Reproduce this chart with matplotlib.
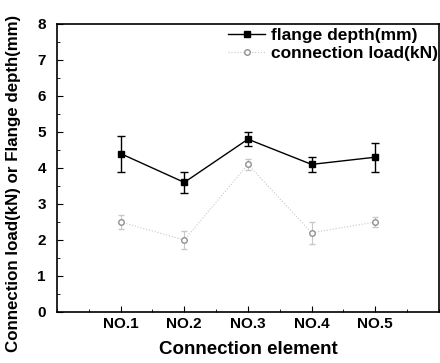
import matplotlib.pyplot as plt
from matplotlib.ticker import MultipleLocator

plt.rcParams['font.family'] = ['Liberation Sans', 'DejaVu Sans']
plt.rcParams['font.weight'] = 'bold'

# data
elements = ['NO.1', 'NO.2', 'NO.3', 'NO.4', 'NO.5']
flange_depth = [4.4, 3.6, 4.8, 4.1, 4.3]
flange_err = [0.5, 0.3, 0.2, 0.2, 0.4]
conn_load = [2.5, 2.0, 4.1, 2.2, 2.5]
conn_err = [0.2, 0.25, 0.15, 0.3, 0.15]

xpos = list(range(1, len(elements) + 1))

fig = plt.figure(figsize=(4.4, 3.63), dpi=100)
ax = fig.add_axes([0.1295, 0.1405, 0.868, 0.7934])

eb1 = ax.errorbar(xpos, flange_depth, yerr=flange_err, color='black', marker='s',
                  markersize=5, linewidth=1, capsize=3, elinewidth=1,
                  label='flange depth(mm)')
eb2 = ax.errorbar(xpos, conn_load, yerr=conn_err, color='#c8c8c8', marker='o',
                  markersize=4, markerfacecolor='white', markeredgecolor='#909090',
                  linewidth=0.8, linestyle=':', capsize=2, elinewidth=0.8,
                  label='connection load(kN)')

ax.set_xlim(0, 6)
ax.set_ylim(0, 8)
ax.set_xticks(xpos)
ax.set_xticklabels(elements)
ax.xaxis.set_minor_locator(MultipleLocator(0.5))
ax.yaxis.set_major_locator(MultipleLocator(1))
ax.yaxis.set_minor_locator(MultipleLocator(0.5))
ax.tick_params(direction='in', which='both', labelsize=11)
ax.tick_params(which='major', length=4)
ax.tick_params(which='minor', length=2)
ax.tick_params(axis='y', which='major', pad=8)

for s in ax.spines.values():
    s.set_linewidth(1.2)

ax.set_xlabel('Connection element', fontsize=13.5, fontweight='bold')
ax.xaxis.set_label_coords(0.5, -0.10)
ax.set_ylabel('Connection load(kN) or Flange depth(mm)', fontsize=12.2,
              fontweight='bold')
ax.yaxis.set_label_coords(-0.093, 0.448)

ax.legend(handles=[eb1.lines[0], eb2.lines[0]],
          labels=['flange depth(mm)', 'connection load(kN)'],
          loc='upper left', bbox_to_anchor=(0.449, 0.985), frameon=False,
          fontsize=12.5, handlelength=2.1, borderaxespad=0, borderpad=0,
          labelspacing=0.15, handletextpad=0.35)

fig.savefig('out.png', dpi=100)
